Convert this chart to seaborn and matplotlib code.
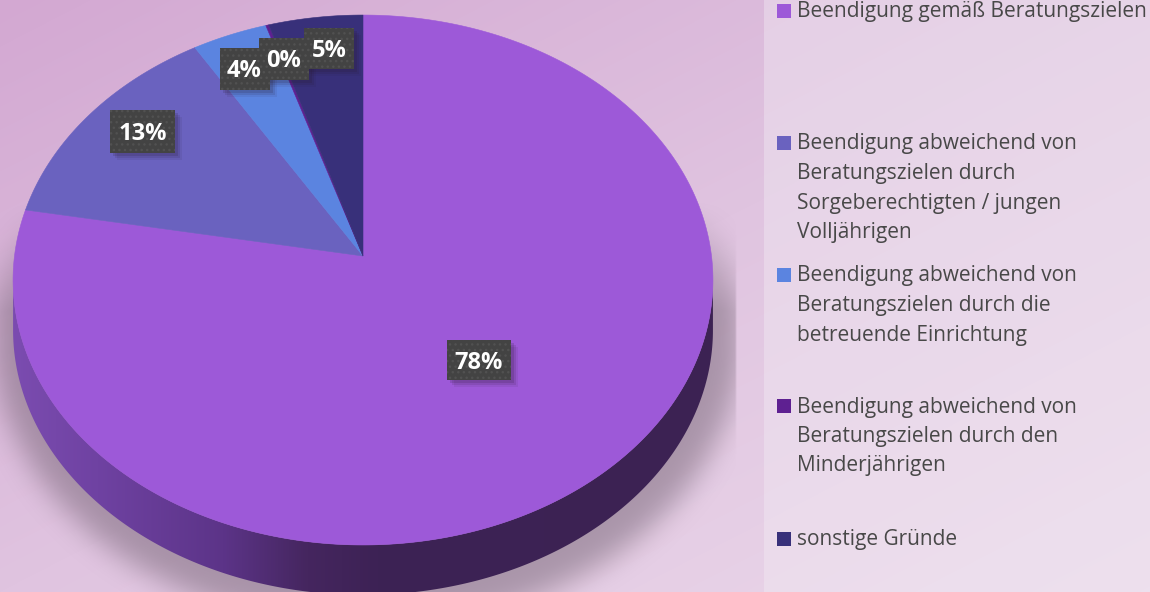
import numpy as np
import matplotlib
matplotlib.use("Agg")
import matplotlib.pyplot as plt
from matplotlib.colors import LinearSegmentedColormap
from matplotlib.patches import Polygon, Rectangle
import seaborn as sns

#values
categories = ["Beendigung gemäß Beratungszielen",
              "Beendigung abweichend von\nBeratungszielen durch\nSorgeberechtigten / jungen\nVolljährigen",
              "Beendigung abweichend von\nBeratungszielen durch die\nbetreuende Einrichtung",
              "Beendigung abweichend von\nBeratungszielen durch den\nMinderjährigen",
              "sonstige Gründe"]
values = [77.85, 13.45, 3.8, 0.15, 4.75]
colors = ["#9d59d8", "#6a62bf", "#5b84e0", "#5e2091", "#38307a"]

sns.set_theme(style="white")
plt.rcParams['font.family'] = ['Open Sans', 'DejaVu Sans']
palette = sns.color_palette(colors)

W, H = 1150, 592
fig = plt.figure(figsize=(W / 100, H / 100), dpi=100)
ax = fig.add_axes([0, 0, 1, 1])
ax.set_xlim(0, W)
ax.set_ylim(H, 0)
ax.axis('off')

#background gradient
yy, xx = np.mgrid[0:H, 0:W]
grad = (xx / W + yy / H) / 2
bg_cmap = LinearSegmentedColormap.from_list("bg", ["#d3a8d2", "#e0c4e0", "#ebd8ea"])
ax.imshow(grad, cmap=bg_cmap, extent=(0, W, H, 0), aspect='auto', zorder=0)
ax.add_patch(Rectangle((764, 0), W - 764, H, color="#f2ecf4", alpha=0.42, lw=0, zorder=1))


#tilted disc: unit circle to picture pixels
def project(u, v):
    w = 1 + 0.0906 * v
    return 363 + 348.5 * u / w, 256 - 262.8 * v / w


#shadow below the pie
def blur(a, n, passes=3):
    kernel = np.ones(n) / n
    for _ in range(passes):
        a = np.apply_along_axis(lambda r: np.convolve(r, kernel, mode='same'), 0, a)
        a = np.apply_along_axis(lambda r: np.convolve(r, kernel, mode='same'), 1, a)
    return a


pad = 60
py, px = np.mgrid[-pad:H + pad:2, -pad:W + pad:2]
mask = (((px - 366) / 374) ** 2 + ((py - 335) / 292) ** 2 < 1).astype(float)
mask = blur(mask, 13)
taper = np.clip((py - 200) / 110, 0, 1)
mask = mask * taper * (px < 736)
shadow = np.zeros(mask.shape + (4,))
shadow[..., :3] = np.array([0.40, 0.34, 0.40])
shadow[..., 3] = mask * 0.46
ax.imshow(shadow, extent=(-pad, W + pad, H + pad, -pad), aspect='auto', zorder=2, interpolation='bilinear')
ax.set_xlim(0, W)
ax.set_ylim(H, 0)

#side wall of the disc
depth = 50
t = np.linspace(0, 2 * np.pi, 721)
rim_x, rim_y = project(np.sin(t), np.cos(t))
low = np.cos(t) <= -0.0906
order = np.argsort(rim_x[low])
low_x, low_y = rim_x[low][order], rim_y[low][order]
wall_xy = np.column_stack([np.r_[low_x, low_x[::-1]], np.r_[low_y, low_y[::-1] + depth]])
wall_cmap = LinearSegmentedColormap.from_list("wall", [(0, "#7b4cb0"), (0.12, "#6f42a2"), (0.3, "#5c3488"),
                                                      (0.42, "#45265f"), (0.52, "#3d2255"), (1, "#3c2353")])
wall_img = ax.imshow(np.linspace(0, 1, 256)[None, :], cmap=wall_cmap, extent=(13, 713, H + 20, 200),
                     aspect='auto', zorder=3)
wall_img.set_clip_path(Polygon(wall_xy, closed=True, transform=ax.transData))
ax.set_xlim(0, W)
ax.set_ylim(H, 0)

#slices, clockwise from the top
edges = np.cumsum([0] + values) / sum(values) * 2 * np.pi
for i, val in enumerate(values):
    a = np.linspace(edges[i], edges[i + 1], max(int(val * 8), 4))
    sx, sy = project(np.sin(a), np.cos(a))
    ax.fill(np.r_[363, sx], np.r_[256, sy], color=palette[i], lw=0.4, zorder=4)

#value labels
label_boxes = [(447, 340, 64, 40), (110, 110, 65, 43), (220, 48, 50, 42), (259, 38, 50, 42), (304, 28, 50, 41)]
label_text = [(479, 363), (143, 134), (244, 71), (284, 61), (329, 51)]
for val, box, pos in zip(values, label_boxes, label_text):
    bx, by, bw, bh = box
    for off, al in [(7, 0.08), (5, 0.12), (3, 0.16)]:
        ax.add_patch(Rectangle((bx + off, by + off), bw, bh, color="#2a1a30", alpha=al, lw=0, zorder=5))
    ax.add_patch(Rectangle((bx, by), bw, bh, facecolor="#434343", edgecolor="#515151", hatch="...", lw=0, zorder=6))
    ax.text(pos[0], pos[1], f"{round(val)}%", color="white", fontsize=17, fontweight='bold',
            ha='center', va='center', zorder=7)

#legend
legend_y = [11, 143, 275, 406, 539]
for i, name in enumerate(categories):
    ax.add_patch(Rectangle((777, legend_y[i] - 7), 14, 14, color=palette[i], lw=0, zorder=5))
    for j, line in enumerate(name.split("\n")):
        ax.text(797, legend_y[i] + 1 + j * 29.5, line, color="#484848", fontsize=15, ha='left', va='center', zorder=5)

plt.savefig("out.png", dpi=100)
